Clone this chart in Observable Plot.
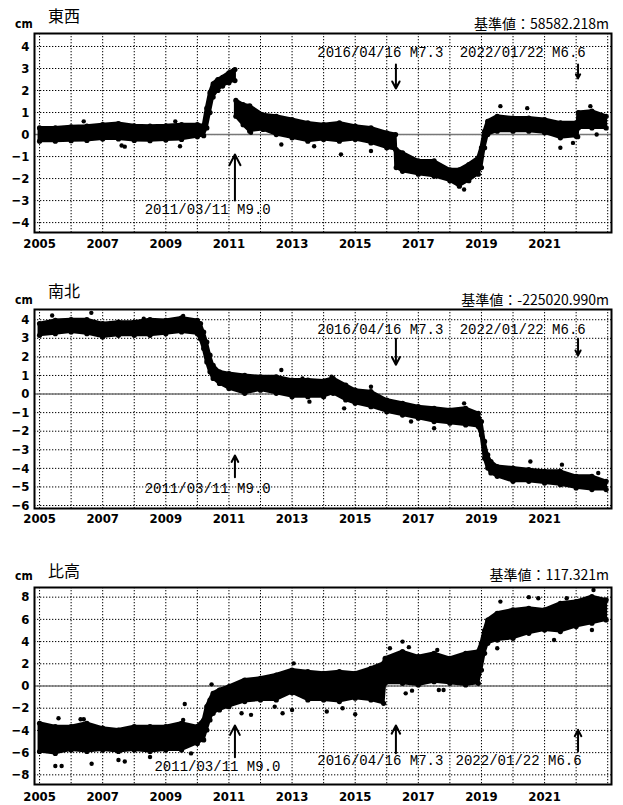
<!DOCTYPE html>
<html><head><meta charset="utf-8">
<script src="https://cdn.jsdelivr.net/npm/d3@7"></script>
<script src="https://cdn.jsdelivr.net/npm/@observablehq/plot@0.6"></script>
<style>
body{margin:0;background:#fff;}
#wrap{position:relative;width:623px;height:805px;overflow:hidden;background:#fff;}
.t{position:absolute;white-space:nowrap;color:#000;}
.title{font-family:"Noto Sans CJK JP",sans-serif;font-size:16px;line-height:20px;}
.cm{font-family:"Liberation Sans Narrow","DejaVu Sans Condensed",sans-serif;font-weight:bold;font-size:12px;line-height:14px;}
.base{font-family:"Noto Sans CJK JP",sans-serif;font-size:14px;line-height:18px;font-weight:normal;}
.plot{position:absolute;left:0;}
</style></head><body><div id="wrap"></div>
<script>
// ---------- data ----------
const xTicks = [2005, 2007, 2009, 2011, 2013, 2015, 2017, 2019, 2021];
const gridYears = [2005,2006,2007,2008,2009,2010,2011,2012,2013,2014,2015,2016,2017,2018,2019,2020,2021,2022,2023];

const evDates = [2011.19, 2016.29, 2022.06];
const evLabels = ["2011/03/11 M9.0", "2016/04/16 M7.3", "2022/01/22 M6.6"];

// 東西 (east-west), band low/high in cm
const ewT  = [2005.0,2005.5,2006.0,2006.5,2007.0,2007.5,2008.0,2008.5,2009.0,2009.5,2010.0,2010.2,2010.3,2010.4,2010.5,2010.65,2010.8,2011.0,2011.19,2011.2,2011.22,2011.45,2011.66,2012.08,2012.5,2013.0,2013.5,2014.0,2014.5,2015.0,2015.5,2016.0,2016.28,2016.3,2016.5,2017.0,2017.5,2018.0,2018.3,2018.6,2018.9,2019.0,2019.1,2019.2,2019.5,2020.0,2020.5,2021.0,2021.5,2022.0,2022.05,2022.07,2022.5,2022.95];
const ewLo = [-0.3,-0.3,-0.28,-0.27,-0.2,-0.2,-0.27,-0.28,-0.25,-0.22,-0.1,-0.05,0.3,1.0,1.7,2.0,2.2,2.35,2.45,null,0.83,0.45,0.15,0.23,0.0,-0.15,-0.3,-0.23,-0.3,-0.23,-0.38,-0.6,-0.68,-1.5,-1.67,-1.8,-1.9,-2.1,-2.35,-2.1,-1.8,-1.5,-0.6,0.0,0.15,0.15,0.15,0.08,-0.15,-0.08,-0.1,0.3,0.3,0.3];
const ewHi = [0.3,0.3,0.35,0.38,0.45,0.5,0.4,0.38,0.4,0.45,0.45,0.4,1.2,1.9,2.3,2.5,2.6,2.8,2.95,null,1.55,1.36,1.3,0.9,0.83,0.68,0.53,0.45,0.53,0.38,0.3,0.08,0.0,-0.68,-0.83,-1.2,-1.2,-1.6,-1.6,-1.36,-1.06,-0.6,0.15,0.6,0.83,0.75,0.75,0.68,0.53,0.53,0.5,1.0,1.06,0.83];
const ewOutT = [2006.4,2007.6,2007.7,2009.3,2009.45,2011.7,2012.66,2013.7,2014.55,2015.5,2018.45,2019.6,2020.45,2021.5,2021.9,2022.45,2022.65];
const ewOutV = [0.6,-0.5,-0.55,0.6,-0.53,0.08,-0.45,-0.53,-0.9,-0.75,-2.5,1.29,1.2,-0.6,-0.38,1.29,0.0];
const ewArrowFrom = [-3.0, 3.18, 3.18];
const ewArrowTo   = [-0.91, 2.09, 2.55];
const ewLabelX = [2008.33, 2013.8, 2018.31];
const ewLabelY = [-3.41, 3.73, 3.73];

// 南北 (north-south)
const nsT  = [2005.0,2005.5,2006.0,2006.5,2007.0,2007.5,2008.0,2008.5,2009.0,2009.5,2010.0,2010.1,2010.2,2010.3,2010.4,2010.5,2010.7,2011.0,2011.5,2012.0,2012.5,2013.0,2013.5,2014.0,2014.3,2014.7,2015.0,2015.5,2016.0,2016.5,2017.0,2017.5,2018.0,2018.5,2018.9,2019.0,2019.1,2019.2,2019.3,2019.5,2020.0,2020.5,2021.0,2021.5,2022.0,2022.5,2022.95];
const nsLo = [3.16,3.25,3.34,3.25,3.07,3.16,3.16,3.16,3.25,3.34,3.25,2.98,2.45,1.73,1.2,0.84,0.57,0.3,0.04,0.21,0.04,-0.14,-0.14,-0.14,0.04,-0.32,-0.5,-0.68,-0.95,-1.13,-1.3,-1.48,-1.57,-1.66,-1.75,-2.2,-3.45,-3.98,-4.25,-4.43,-4.7,-4.7,-4.79,-4.88,-5.05,-5.14,-5.14];
const nsHi = [3.79,3.96,4.0,4.0,3.79,3.87,3.87,4.0,3.96,4.1,3.96,3.79,3.34,2.8,2.09,1.55,1.2,1.1,1.0,0.93,0.93,0.75,0.75,0.7,0.84,0.48,0.21,0.13,-0.32,-0.5,-0.68,-0.77,-0.86,-0.77,-1.04,-1.48,-2.55,-3.27,-3.63,-3.9,-3.98,-4.07,-4.16,-4.16,-4.43,-4.43,-4.7];
const nsOutT = [2005.4,2006.64,2008.3,2009.55,2012.66,2013.33,2013.55,2014.25,2014.65,2015.5,2016.77,2017.5,2018.45,2020.55,2021.55,2022.7];
const nsOutV = [4.23,4.37,4.05,4.2,1.29,0.84,-0.41,0.93,-0.77,0.39,-1.48,-1.84,-0.5,-3.63,-3.8,-4.25];
const nsArrowFrom = [-4.48, 2.98, 2.98];
const nsArrowTo   = [-3.31, 1.58, 2.08];
const nsLabelX = [2008.33, 2013.8, 2018.31];
const nsLabelY = [-5.1, 3.46, 3.46];

// 比高 (height)
const udT  = [2005.0,2005.5,2006.0,2006.5,2007.0,2007.5,2008.0,2008.5,2009.0,2009.5,2010.0,2010.2,2010.3,2010.4,2010.5,2010.7,2011.0,2011.5,2012.0,2012.5,2013.0,2013.5,2014.0,2014.5,2015.0,2015.5,2015.9,2015.95,2016.5,2017.0,2017.5,2018.0,2018.5,2018.9,2019.0,2019.1,2019.2,2019.5,2020.0,2020.5,2021.0,2021.5,2022.0,2022.5,2022.95];
const udLo = [-5.9,-6.07,-5.77,-5.9,-5.77,-5.9,-5.77,-5.9,-5.77,-5.77,-5.17,-4.86,-3.96,-3.06,-2.46,-2.16,-1.86,-1.4,-1.26,-1.26,-0.6,-1.26,-1.26,-1.4,-1.1,-1.26,-1.56,0.24,0.24,0.09,0.39,0.24,0.09,0.24,1.44,2.94,3.84,4.14,4.29,4.74,5.04,4.9,5.35,5.65,5.95];
const udHi = [-3.36,-3.66,-3.66,-3.36,-3.8,-3.96,-3.66,-3.66,-3.66,-3.36,-3.66,-3.06,-1.86,-1.26,-0.66,-0.36,-0.06,0.54,0.69,0.99,1.44,1.29,1.14,1.29,1.14,1.59,2.04,2.49,3.1,2.64,2.94,2.49,2.94,3.1,3.84,5.0,5.94,6.55,6.85,7.0,6.85,7.45,7.6,8.05,7.75];
const udOutT = [2005.5,2005.7,2005.6,2006.3,2006.4,2006.65,2007.5,2007.7,2008.5,2009.6,2009.55,2009.8,2010.45,2011.4,2011.7,2012.45,2012.7,2013.05,2013.0,2014.1,2014.6,2015.0,2016.1,2016.5,2016.7,2016.6,2016.8,2017.6,2017.65,2017.8,2019.6,2019.5,2020.5,2021.3,2022.55,2022.5,2020.8,2021.7];
const udOutV = [-7.2,-7.2,-2.9,-3.0,-3.0,-7.0,-6.66,-6.8,-6.4,-1.62,-3.06,-6.07,0.15,-2.46,-2.6,-1.86,-2.46,2.04,-2.16,-2.3,-2.0,-2.55,3.4,4.0,3.5,-0.66,-0.42,3.24,-0.36,-0.36,7.6,3.4,8.0,4.14,8.65,5.04,7.9,7.9];
const udArrowFrom = [-6.41, -6.05, -5.87];
const udArrowTo   = [-3.56, -3.56, -3.95];
const udLabelX = [2008.64, 2013.8, 2018.18];
const udLabelY = [-7.22, -6.7, -6.7];

const titles = ["東西", "南北", "比高"];
const baseValues = ["基準値：58582.218m", "基準値：-225020.990m", "基準値：117.321m"];

// ---------- drawing ----------
const xDomain = [2004.84, 2023.12];
const numFmt = d => d < 0 ? "\u2212" + (-d) : String(d);

function panel(o) {
  const band = o.t.map((t, i) => ({t, lo: o.lo[i], hi: o.hi[i]}));
  const edges = band.filter(d => d.lo != null).flatMap(d => [{t: d.t, v: d.lo}, {t: d.t, v: d.hi}]);
  const outs = o.outT.map((t, i) => ({t, v: o.outV[i]}));
  const ev = evDates.map((d, i) => ({d, from: o.aFrom[i], to: o.aTo[i], lx: o.lx[i], ly: o.ly[i], label: evLabels[i]}));
  return Plot.plot({
    width: 623, height: o.height,
    marginLeft: 34, marginRight: 12, marginTop: o.mt, marginBottom: o.mb,
    x: {domain: xDomain, ticks: xTicks, tickFormat: d => String(d), tickSize: 0, tickPadding: o.xpad, label: null},
    y: {domain: o.yDomain, ticks: o.yTicks, tickFormat: numFmt, tickSize: 0, tickPadding: 5, label: null},
    style: {fontFamily: "'Liberation Sans Narrow','DejaVu Sans Condensed',sans-serif", fontWeight: "bold", fontSize: "13px", color: "#000", background: "transparent", overflow: "visible"},
    marks: [
      Plot.ruleX(gridYears, {stroke: "#000", strokeWidth: 1, strokeDasharray: "1.3,1.7"}),
      Plot.ruleY(o.yTicks, {stroke: "#000", strokeWidth: 1, strokeDasharray: "1.3,1.7"}),
      Plot.ruleY([0], {stroke: "#777", strokeWidth: 1.5}),
      Plot.areaY(band, {x: "t", y1: "lo", y2: "hi", fill: "#000", stroke: "#000", strokeWidth: 3, strokeLinejoin: "round"}),
      Plot.dot(edges, {x: "t", y: "v", r: 2.6, fill: "#000"}),
      Plot.dot(outs, {x: "t", y: "v", r: 2.2, fill: "#000"}),
      Plot.arrow(ev, {x: "d", y1: "from", y2: "to", stroke: "#000", strokeWidth: 2, headLength: 9, headAngle: 55}),
      Plot.text(ev, {x: "lx", y: "ly", text: "label", textAnchor: "start", lineAnchor: "middle", fontFamily: "'Liberation Mono','DejaVu Sans Mono',monospace", fontSize: 14, fontWeight: "normal", fill: "#000"}),
      Plot.frame({stroke: "#000", strokeWidth: 2})
    ]
  });
}

const wrap = document.getElementById("wrap");
const configs = [
  {top: 0, height: 252, mt: 33, mb: 20, xpad: 6, yDomain: [-4.45, 4.59], yTicks: [-4,-3,-2,-1,0,1,2,3,4],
   t: ewT, lo: ewLo, hi: ewHi, outT: ewOutT, outV: ewOutV, aFrom: ewArrowFrom, aTo: ewArrowTo, lx: ewLabelX, ly: ewLabelY,
   titleY: 15, cmY: 23.5, baseY: 22.5},
  {top: 276, height: 252, mt: 33, mb: 20, xpad: 5, yDomain: [-6.16, 4.55], yTicks: [-6,-5,-4,-3,-2,-1,0,1,2,3,4],
   t: nsT, lo: nsLo, hi: nsHi, outT: nsOutT, outV: nsOutV, aFrom: nsArrowFrom, aTo: nsArrowTo, lx: nsLabelX, ly: nsLabelY,
   titleY: 290, cmY: 300, baseY: 299},
  {top: 553, height: 251, mt: 34, mb: 20, xpad: 7, yDomain: [-8.87, 8.87], yTicks: [-8,-6,-4,-2,0,2,4,6,8],
   t: udT, lo: udLo, hi: udHi, outT: udOutT, outV: udOutV, aFrom: udArrowFrom, aTo: udArrowTo, lx: udLabelX, ly: udLabelY,
   titleY: 569.5, cmY: 575.5, baseY: 574.3}
];

configs.forEach((c, i) => {
  const svg = panel(c);
  svg.classList.add("plot");
  svg.style.top = c.top + "px";
  wrap.appendChild(svg);
});
configs.forEach((c, i) => {
  const ti = document.createElement("div");
  ti.className = "t title"; ti.textContent = titles[i];
  ti.style.left = "48px"; ti.style.top = (c.titleY - 10) + "px";
  wrap.appendChild(ti);
  const cm = document.createElement("div");
  cm.className = "t cm"; cm.textContent = "cm";
  cm.style.left = "15px"; cm.style.top = (c.cmY - 7) + "px";
  wrap.appendChild(cm);
  const b = document.createElement("div");
  b.className = "t base"; b.textContent = baseValues[i];
  b.style.right = (623 - 609) + "px"; b.style.top = (c.baseY - 9) + "px";
  wrap.appendChild(b);
});
</script></body></html>
